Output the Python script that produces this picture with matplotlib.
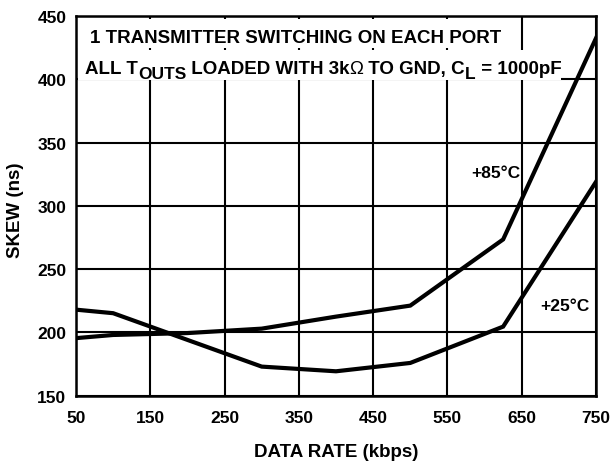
import matplotlib
matplotlib.use("Agg")
import matplotlib.pyplot as plt
from matplotlib.patches import Rectangle
from matplotlib.transforms import offset_copy

plt.rcParams['font.family'] = ['Liberation Sans', 'DejaVu Sans']

# Data
rate_25 = [50, 100, 300, 400, 500, 625, 750]
skew_25 = [218.0, 215.2, 173, 169.3, 175.9, 204.6, 319]
rate_85 = [50, 100, 200, 300, 400, 500, 625, 750]
skew_85 = [195.5, 198, 199.5, 203, 212.5, 221.2, 273.5, 432.5]
xticks = [50, 150, 250, 350, 450, 550, 650, 750]
yticks = [150, 200, 250, 300, 350, 400, 450]

fig = plt.figure(figsize=(6.15, 4.64), dpi=100)
ax = fig.add_axes([0.1236, 0.1450, 0.8455, 0.8183])
ax.set_xlim(50, 750)
ax.set_ylim(150, 450)
ax.set_xticks(xticks)
ax.set_yticks(yticks)
ax.set_xticklabels([str(v) for v in xticks])
ax.set_yticklabels([str(v) for v in yticks])
ax.tick_params(length=0, labelsize=12.5)
ax.tick_params(axis='x', pad=10)
ax.tick_params(axis='y', pad=7)
for lab in ax.get_xticklabels() + ax.get_yticklabels():
    lab.set_fontweight('bold')
ax.set_axisbelow(True)
ax.grid(True, color='black', linewidth=1.5)
for s in ax.spines.values():
    s.set_linewidth(1.8)
    s.set_zorder(5)

# white areas behind the two annotation lines (grid hidden there)
ax.add_patch(Rectangle((52, 425.0), 588, 22.6, facecolor='white', edgecolor='none', zorder=2))
ax.add_patch(Rectangle((53, 399.2), 650, 24.2, facecolor='white', edgecolor='none', zorder=2))

ax.plot(rate_25, skew_25, color='black', linewidth=3.0, solid_joinstyle='miter', zorder=3)
ax.plot(rate_85, skew_85, color='black', linewidth=3.0, solid_joinstyle='miter', zorder=3)

ax.text(615, 326.3, '+85°C', fontsize=12.5, fontweight='bold', ha='center', va='center', zorder=4)
ax.text(708, 221, '+25°C', fontsize=12.5, fontweight='bold', ha='center', va='center', zorder=4)

ax.set_xlabel('DATA RATE (kbps)', fontsize=13.5, fontweight='bold', va='center', ha='center')
ax.xaxis.set_label_coords(0.5, -0.147)
ax.set_ylabel('SKEW (ns)', fontsize=13.5, fontweight='bold', va='center', ha='center')
ax.yaxis.set_label_coords(-0.1163, 0.49)

ax.text(68.8, 435, '1 TRANSMITTER SWITCHING ON EACH PORT', fontsize=13.5, fontweight='bold',
        ha='left', va='center_baseline', zorder=4)

renderer = fig.canvas.get_renderer()
def draw_pieces(x, y, pieces):
    dx = 0.0
    for txt, dy, props in pieces:
        tr = offset_copy(ax.transData, fig=fig, x=dx, y=dy, units='dots')
        t = ax.text(x, y, txt, transform=tr, ha='left', va='center_baseline', zorder=4, **props)
        bb = t.get_window_extent(renderer=renderer)
        dx += bb.width

B = dict(fontsize=13.5, fontweight='bold')
S = dict(fontsize=12.5, fontweight='bold')
R = dict(fontsize=13.5, fontweight='normal')
draw_pieces(62, 409.8, [
    ('ALL T', 0, B),
    ('OUTS', -5, S),
    (' LOADED WITH 3k', 0, B),
    ('\u03a9', 0, R),
    (' TO GND, C', 0, B),
    ('L', -5, S),
    (' = 1000pF', 0, B),
])

fig.savefig('out.png', dpi=100)
